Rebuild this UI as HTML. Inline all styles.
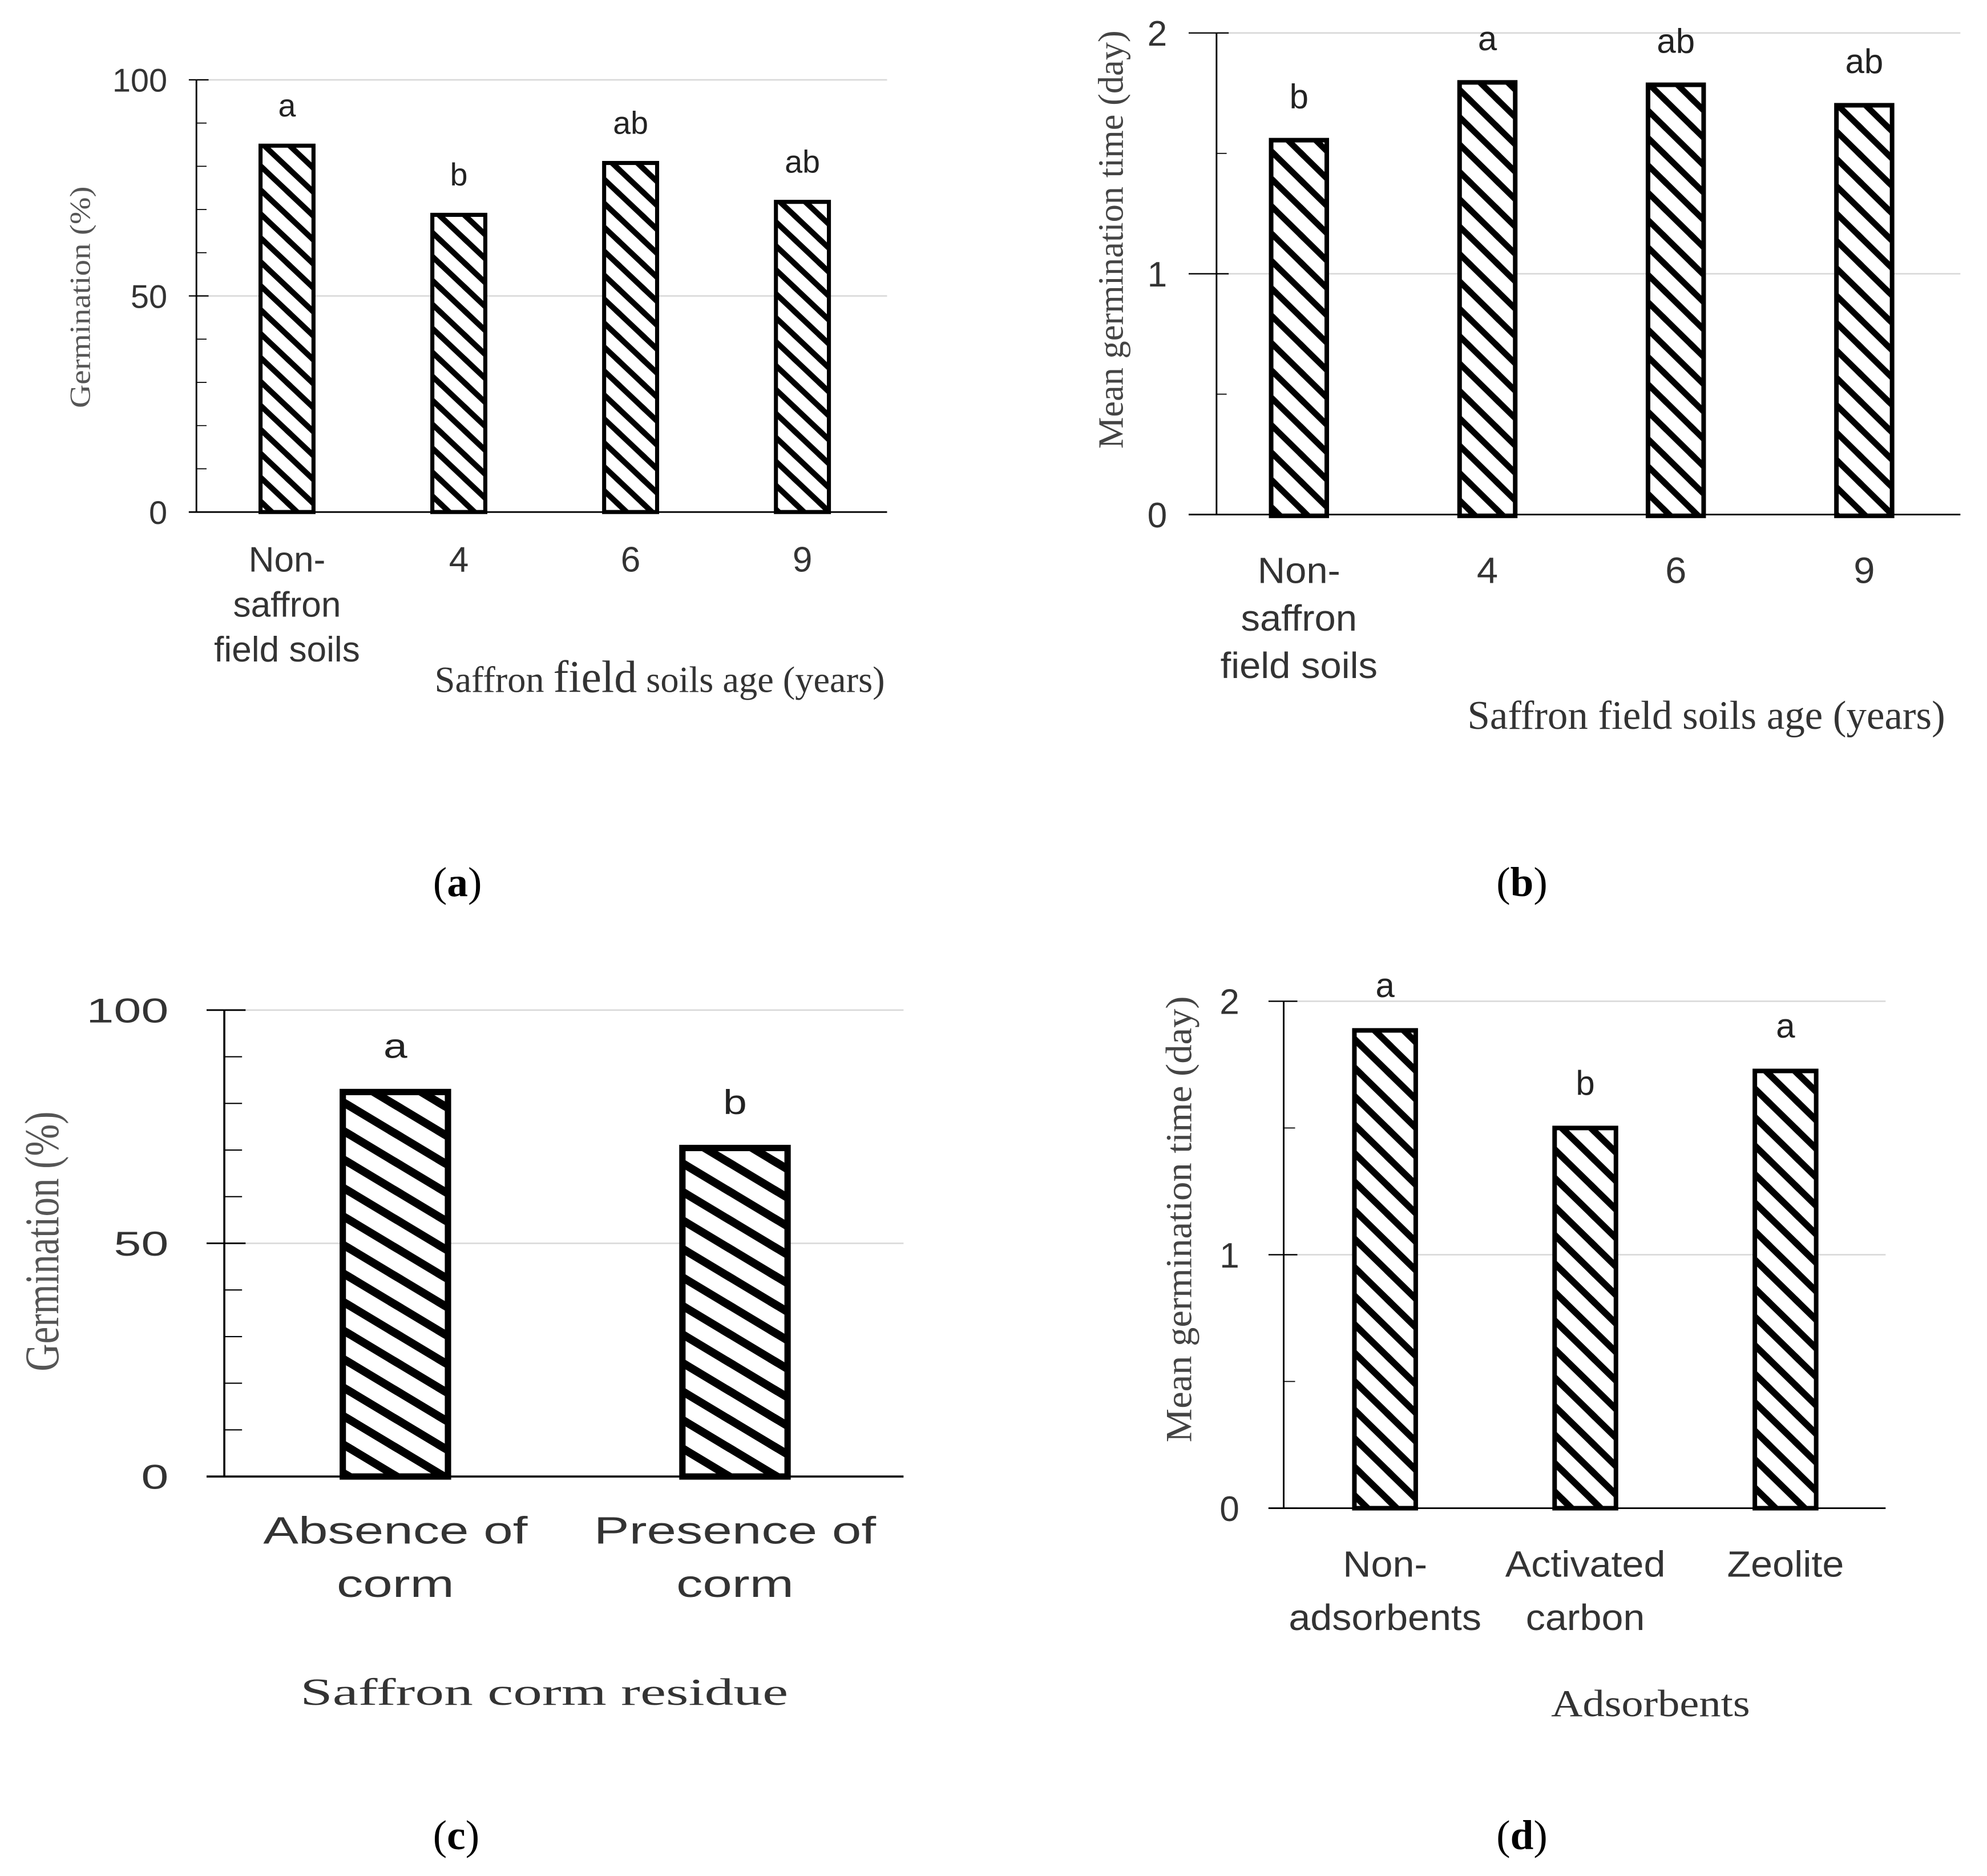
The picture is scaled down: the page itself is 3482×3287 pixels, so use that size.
<!DOCTYPE html>
<html lang="en">
<head>
<meta charset="utf-8">
<title>Saffron germination charts</title>
<style>
html,body{margin:0;padding:0;background:#fff;}
svg{display:block;}
.serif{font-family:"Liberation Serif",serif;}
.sans{font-family:"Liberation Sans",sans-serif;}
</style>
</head>
<body>
<svg id="figure" xmlns="http://www.w3.org/2000/svg" width="3482" height="3287" viewBox="0 0 1568 1480.2">
  <rect x="0" y="0" width="1568" height="1480.2" fill="#fff"/>
  <defs id="defs"></defs>
  <g id="charts"></g>

  <text class="serif" fill="#555" font-size="23" text-anchor="middle" textLength="175" lengthAdjust="spacingAndGlyphs" transform="translate(71,234.5) rotate(-90)">Germination (%)</text>
  <text class="serif" fill="#333" font-size="29" x="343" y="546">Saffron <tspan font-size="36">field</tspan> soils age (years)</text>
  <text class="serif" fill="#444" font-size="28" text-anchor="middle" textLength="330" lengthAdjust="spacingAndGlyphs" transform="translate(886,189) rotate(-90)">Mean germination time (day)</text>
  <text class="serif" fill="#333" font-size="32" textLength="377" lengthAdjust="spacingAndGlyphs" x="1158" y="575">Saffron field soils age (years)</text>
  <text class="serif" fill="#555" font-size="38" text-anchor="middle" textLength="205" lengthAdjust="spacingAndGlyphs" transform="translate(46,979.5) rotate(-90)">Germination (%)</text>
  <text class="serif" fill="#333" font-size="30" textLength="385" lengthAdjust="spacingAndGlyphs" x="237" y="1345">Saffron corm residue</text>
  <text class="serif" fill="#444" font-size="29" text-anchor="middle" textLength="352" lengthAdjust="spacingAndGlyphs" transform="translate(940,962) rotate(-90)">Mean germination time (day)</text>
  <text class="serif" fill="#333" font-size="30" textLength="157" lengthAdjust="spacingAndGlyphs" x="1224" y="1354">Adsorbents</text>

  <text class="serif" fill="#000" font-size="33" text-anchor="middle" x="361" y="707">(<tspan font-weight="bold">a</tspan>)</text>
  <text class="serif" fill="#000" font-size="33" text-anchor="middle" x="1201" y="707">(<tspan font-weight="bold">b</tspan>)</text>
  <text class="serif" fill="#000" font-size="33" text-anchor="middle" x="360" y="1459">(<tspan font-weight="bold">c</tspan>)</text>
  <text class="serif" fill="#000" font-size="33" text-anchor="middle" x="1201" y="1459">(<tspan font-weight="bold">d</tspan>)</text>
</svg>

<script>
// Panel a data
const aCategories = [["Non-", "saffron", "field soils"], ["4"], ["6"], ["9"]];
const aValues = [85, 69, 81, 72];
const aLetters = ["a", "b", "ab", "ab"];
const aTickLabels = ["0", "50", "100"];
const aTickValues = [0, 50, 100];
const aMinorTicks = [10, 20, 30, 40, 60, 70, 80, 90];

// Panel b data
const bCategories = [["Non-", "saffron", "field soils"], ["4"], ["6"], ["9"]];
const bValues = [1.56, 1.8, 1.79, 1.705];
const bLetters = ["b", "a", "ab", "ab"];
const bTickLabels = ["0", "1", "2"];
const bTickValues = [0, 1, 2];
const bMinorTicks = [0.5, 1.5];

// Panel c data
const cCategories = [["Absence of", "corm"], ["Presence of", "corm"]];
const cValues = [82.9, 70.9];
const cLetters = ["a", "b"];
const cTickLabels = ["0", "50", "100"];
const cTickValues = [0, 50, 100];
const cMinorTicks = [10, 20, 30, 40, 60, 70, 80, 90];

// Panel d data
const dCategories = [["Non-", "adsorbents"], ["Activated", "carbon"], ["Zeolite"]];
const dValues = [1.89, 1.505, 1.73];
const dLetters = ["a", "b", "a"];
const dTickLabels = ["0", "1", "2"];
const dTickValues = [0, 1, 2];
const dMinorTicks = [0.5, 1.5];

const SVGNS = "http://www.w3.org/2000/svg";
const root = document.getElementById("charts");
const defs = document.getElementById("defs");

function make(tag, attrs, parent) {
  const el = document.createElementNS(SVGNS, tag);
  for (const k in attrs) el.setAttribute(k, attrs[k]);
  parent.appendChild(el);
  return el;
}

function label(parent, str, x, y, size, sx, anchor, fill) {
  const el = make("text", {
    "class": "sans",
    "font-size": size,
    "text-anchor": anchor,
    fill: fill,
    transform: "translate(" + x + "," + y + ") scale(" + sx + ",1)"
  }, parent);
  el.textContent = str;
  return el;
}

function drawPanel(id, categories, values, letters, tickLabels, tickValues, minorTicks, o) {
  const g = make("g", {}, root);
  
  

  const yMax = tickValues[tickValues.length - 1];
  const yScale = function (v) { return o.yBottom - (v / yMax) * (o.yBottom - o.yTop); };
  const band = (o.bandRight - o.bandLeft) / categories.length;
  const xScale = function (i) { return o.bandLeft + (i + 0.5) * band; };

  // hatch pattern
  const pat = make("pattern", {
    id: "hatch-" + id, patternUnits: "userSpaceOnUse",
    width: o.hatchDx, height: o.hatchDy,
    patternTransform: "translate(" + o.hatchX + "," + o.hatchY + ")"
  }, defs);
  make("rect", { x: 0, y: 0, width: o.hatchDx, height: o.hatchDy, fill: "#fff" }, pat);
  [[0, 0], [o.hatchDx, 0], [0, o.hatchDy], [-o.hatchDx, 0], [0, -o.hatchDy]].forEach(function (s) {
    make("line", {
      x1: s[0] - o.hatchDx, y1: s[1] - o.hatchDy,
      x2: s[0] + 2 * o.hatchDx, y2: s[1] + 2 * o.hatchDy,
      stroke: "#000", "stroke-width": o.hatchW
    }, pat);
  });

  // gridlines
  tickValues.forEach(function (v) {
    if (v === 0) return;
    const line = make("line", { x1: o.axisX, x2: o.xEnd, y1: yScale(v), y2: yScale(v), stroke: "#d9d9d9", "stroke-width": 1.2 }, g);
    
    
  });

  // axes
  const yAxis = make("line", { x1: o.axisX, x2: o.axisX, y1: yScale(yMax), y2: yScale(0), stroke: "#000", "stroke-width": o.axisW }, g);
  
  
  const xAxis = make("line", { x1: o.tickStart, x2: o.xEnd, y1: yScale(0), y2: yScale(0), stroke: "#000", "stroke-width": o.axisW }, g);
  
  

  // major ticks and labels
  tickValues.forEach(function (v, i) {
    const t = make("line", { x1: o.tickStart, x2: o.axisX + o.tickIn * 1.2, y1: yScale(v), y2: yScale(v), stroke: "#000", "stroke-width": o.axisW * 0.8 }, g);
    
    
    const tl = label(g, tickLabels[i], o.tickLabelX, yScale(v) + o.tickSize * 0.36, o.tickSize, o.tickSx, "end", "#333");
    
    
  });

  // minor ticks
  minorTicks.forEach(function (v) {
    const t = make("line", { x1: o.axisX, x2: o.axisX + o.tickIn, y1: yScale(v), y2: yScale(v), stroke: "#000", "stroke-width": o.axisW * 0.6 }, g);
    
    
  });

  // bars, letters, category labels
  values.forEach(function (v, i) {
    const cx = xScale(i);
    const top = yScale(v) - 0.8;
    const bw = o.border;
    const bar = make("rect", {
      x: cx - o.barW / 2 + bw / 2, y: top + bw / 2,
      width: o.barW - bw, height: Math.max(0, yScale(0) - top - bw / 2 + o.barDrop),
      fill: "url(#hatch-" + id + ")", stroke: "#000", "stroke-width": bw
    }, g);
    
    

    const letter = label(g, letters[i], cx, top - o.letterGap, o.letterSize, o.letterSx, "middle", "#222");
    
    

    categories[i].forEach(function (line, j) {
      const c = label(g, line, cx, o.catY + j * o.catGap, o.catSize, o.catSx, "middle", "#333");
      
      
    });
  });
}

drawPanel("a", aCategories, aValues, aLetters, aTickLabels, aTickValues, aMinorTicks, {
  axisX: 155, tickStart: 149, tickIn: 8, xEnd: 700, yTop: 63, yBottom: 404,
  bandLeft: 158.7, bandRight: 701, barW: 45, border: 3.2, barDrop: 0, axisW: 1.3,
  hatchDx: 20, hatchDy: 18.9, hatchW: 4.4, hatchX: 207.6, hatchY: 132.9,
  tickSize: 26, tickSx: 1, tickLabelX: 132,
  letterSize: 25, letterSx: 1, letterGap: 21.5,
  catSize: 28, catSx: 1.0, catY: 451, catGap: 35.5
});

drawPanel("b", bCategories, bValues, bLetters, bTickLabels, bTickValues, bMinorTicks, {
  axisX: 960, tickStart: 938, tickIn: 8, xEnd: 1547, yTop: 26, yBottom: 406,
  bandLeft: 950.7, bandRight: 1545.5, barW: 47.5, border: 3.6, barDrop: 1, axisW: 1.3,
  hatchDx: 22, hatchDy: 21.6, hatchW: 4.8, hatchX: 1005.5, hatchY: 121.6,
  tickSize: 28, tickSx: 1, tickLabelX: 921,
  letterSize: 27, letterSx: 1, letterGap: 23.5,
  catSize: 29, catSx: 1.04, catY: 460, catGap: 37.5
});

drawPanel("c", cCategories, cValues, cLetters, cTickLabels, cTickValues, cMinorTicks, {
  axisX: 177, tickStart: 163, tickIn: 14, xEnd: 713, yTop: 797, yBottom: 1165,
  bandLeft: 178, bandRight: 714, barW: 88, border: 5, barDrop: 0, axisW: 1.6,
  hatchDx: 37.5, hatchDy: 22.5, hatchW: 6.4, hatchX: 274.7, hatchY: 872,
  tickSize: 27, tickSx: 1.44, tickLabelX: 133,
  letterSize: 27, letterSx: 1.25, letterGap: 24.5,
  catSize: 30, catSx: 1.39, catY: 1218, catGap: 42
});

drawPanel("d", dCategories, dValues, dLetters, dTickLabels, dTickValues, dMinorTicks, {
  axisX: 1013, tickStart: 1001, tickIn: 9, xEnd: 1488, yTop: 790, yBottom: 1190,
  bandLeft: 1014, bandRight: 1488, barW: 52, border: 3.6, barDrop: 0, axisW: 1.3,
  hatchDx: 23, hatchDy: 22.5, hatchW: 5.2, hatchX: 1073, hatchY: 824,
  tickSize: 28, tickSx: 1, tickLabelX: 978,
  letterSize: 27, letterSx: 1, letterGap: 24.5,
  catSize: 29, catSx: 1.06, catY: 1244, catGap: 42
});
</script>
</body>
</html>
